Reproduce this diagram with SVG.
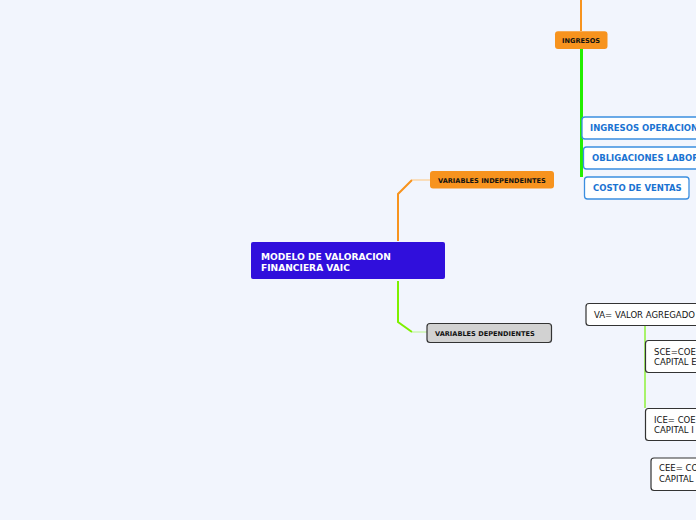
<svg xmlns="http://www.w3.org/2000/svg" width="696" height="520" viewBox="0 0 696 520">
<style>
.t{font-family:"DejaVu Sans",Verdana,sans-serif}
.b{font-weight:bold}
.orange{fill:#f7931e}
.blue{fill:#fff;stroke:#3b8ee0;stroke-width:1.3}
.bt{fill:#1a73d2;font-size:8.5px;font-weight:bold}
.wn{fill:#fff;stroke:#333;stroke-width:1.2}
.nt{fill:#111;font-size:8.5px}
</style>
<rect width="696" height="520" fill="#f2f5fd"/>
<g id="connectors" fill="none">
<path d="M398 241 V194 L412 180" stroke="#f7931e" stroke-width="2"/>
<path d="M412 180 H430" stroke="#ffc57a" stroke-width="1"/>
<path d="M398 281 V322 L412 332" stroke="#7ef000" stroke-width="2"/>
<path d="M412 332 H427" stroke="#b9f58a" stroke-width="1"/>
<path d="M581 0 V31" stroke="#f7931e" stroke-width="2"/>
<path d="M581.5 49 V177" stroke="#22ee00" stroke-width="3"/>
<path d="M645 325 V408" stroke="#8ef03a" stroke-width="1.5"/>
</g>
<g id="main">
<rect x="251" y="242" width="194" height="37" rx="2" fill="#300fdc"/>
<text class="t b" x="261" y="259.5" font-size="9.1" fill="#fff">MODELO DE VALORACION</text>
<text class="t b" x="261" y="270.5" font-size="9.1" fill="#fff">FINANCIERA VAIC</text>
</g>
<g id="indep">
<rect x="430" y="171" width="124" height="17.5" rx="3" class="orange"/>
<text class="t b" x="438" y="183" font-size="6.6" fill="#111">VARIABLES INDEPENDEINTES</text>
</g>
<g id="dep">
<rect x="427" y="323.5" width="124.5" height="19" rx="3" fill="#d2d2d2" stroke="#333" stroke-width="1.2"/>
<text class="t b" x="435" y="336" font-size="6.6" fill="#111">VARIABLES DEPENDIENTES</text>
</g>
<g id="ingresos">
<rect x="555" y="31.3" width="52.5" height="17.7" rx="3" class="orange"/>
<text class="t b" x="562" y="42.8" font-size="6.6" fill="#111">INGRESOS</text>
</g>
<g id="ing-op">
<rect x="582" y="117" width="140" height="22" rx="3" class="blue"/>
<text class="t bt" x="590" y="131">INGRESOS OPERACIONALES</text>
</g>
<g id="oblig">
<rect x="583.5" y="147" width="140" height="22" rx="3" class="blue"/>
<text class="t bt" x="592" y="161">OBLIGACIONES LABORALES</text>
</g>
<g id="costo">
<rect x="584.5" y="177" width="104.5" height="22" rx="3" class="blue"/>
<text class="t bt" x="593" y="191">COSTO DE VENTAS</text>
</g>
<g id="va">
<rect x="586" y="303.5" width="130" height="22" rx="3" class="wn"/>
<text class="t nt" x="594" y="318">VA= VALOR AGREGADO</text>
</g>
<g id="sce">
<rect x="645.5" y="340.5" width="80" height="32" rx="3" class="wn"/>
<text class="t nt" x="654" y="354.5">SCE=COE</text>
<text class="t nt" x="654" y="365">CAPITAL E</text>
</g>
<g id="ice">
<rect x="645.5" y="408.5" width="80" height="32" rx="3" class="wn"/>
<text class="t nt" x="654" y="422.7">ICE= COE</text>
<text class="t nt" x="654" y="433">CAPITAL I</text>
</g>
<g id="cee">
<rect x="651" y="458" width="80" height="32.5" rx="3" class="wn"/>
<text class="t nt" x="659" y="471">CEE= CO</text>
<text class="t nt" x="659" y="482">CAPITAL</text>
</g>
</svg>
